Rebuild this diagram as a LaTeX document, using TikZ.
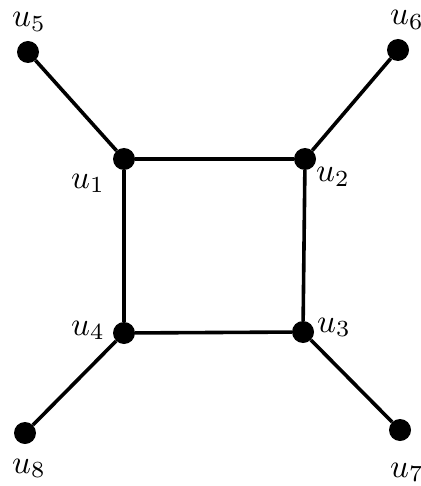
\documentclass[tikz,border=0pt]{standalone}
\begin{document}
\begin{tikzpicture}[x=1pt,y=-1pt,
  vertex/.style={circle,fill=black,inner sep=0pt,minimum size=22pt},
  lab/.style={anchor=base west,inner sep=0pt},
  edge/.style={line width=3.6pt}]
\newcommand{\ulab}[1]{\scalebox{3.3}{$u_{#1}$}}
\useasboundingbox (0,0) rectangle (420,486);
\node[vertex] (u1) at (124,159) {};
\node[vertex] (u2) at (305,159) {};
\node[vertex] (u3) at (303,332) {};
\node[vertex] (u4) at (124,333) {};
\node[vertex] (u5) at (28,52) {};
\node[vertex] (u6) at (398,50) {};
\node[vertex] (u7) at (400,430) {};
\node[vertex] (u8) at (25,433) {};
\draw[edge] (u1) -- (u2) -- (u3) -- (u4) -- (u1);
\draw[edge] (u1) -- (u5);
\draw[edge] (u2) -- (u6);
\draw[edge] (u3) -- (u7);
\draw[edge] (u4) -- (u8);
\node[lab] (l5) at (12,27) {\ulab{5}};
\node[lab] (l1) at (71,188) {\ulab{1}};
\node[lab] (l2) at (316,182) {\ulab{2}};
\node[lab] (l6) at (390,25) {\ulab{6}};
\node[lab] (l4) at (71,335) {\ulab{4}};
\node[lab] (l8) at (12,473) {\ulab{8}};
\node[lab] (l3) at (317,332) {\ulab{3}};
\node[lab] (l7) at (390,477) {\ulab{7}};
\end{tikzpicture}
\end{document}
